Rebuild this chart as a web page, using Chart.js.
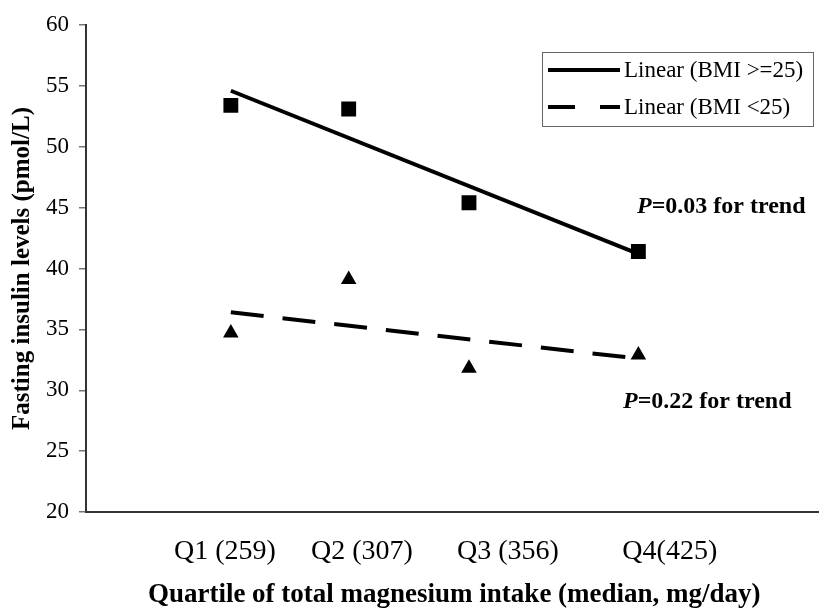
<!DOCTYPE html>
<html>
<head>
<meta charset="utf-8">
<script src="https://cdn.jsdelivr.net/npm/chart.js@4/dist/chart.umd.min.js"></script>
<style>
  html, body { margin: 0; padding: 0; background: #fff; overflow: hidden; }
</style>
</head>
<body>
<canvas id="chart" width="833" height="615"></canvas>
<script>
// Quartile medians of total magnesium intake (mg/day)
const magnesium = [259, 307, 356, 425];
const quartileLabels = ['Q1 (259)', 'Q2 (307)', 'Q3 (356)', 'Q4(425)'];

// Fasting insulin levels (pmol/L)
const insulinHighBmi = [53.4, 53.1, 45.4, 41.4];
const insulinLowBmi = [34.7, 39.1, 31.8, 32.9];

// Linear trend lines, values at Q1 and Q4
const trendHighBmi = [54.6, 41.2];
const trendLowBmi = [36.4, 32.6];

const trendPValues = ['0.03', '0.22'];

const serif = "'Liberation Serif', 'Times New Roman', serif";

function toPoints(xs, ys) {
    return ys.map((y, i) => ({ x: xs[i], y: y }));
}

// Legend box drawn inside the plot, like the original figure
const boxLegend = {
    id: 'boxLegend',
    afterDraw(chart) {
        const ctx = chart.ctx;
        ctx.save();
        ctx.strokeStyle = '#666';
        ctx.lineWidth = 1;
        ctx.strokeRect(542.5, 52.5, 271, 74);

        const rows = [chart.data.datasets[0], chart.data.datasets[1]];
        const ys = [70, 107];
        rows.forEach((ds, i) => {
            ctx.beginPath();
            ctx.strokeStyle = '#000';
            ctx.lineWidth = 4;
            ctx.setLineDash(ds.borderDash ? [27, 25] : []);
            ctx.moveTo(548, ys[i]);
            ctx.lineTo(620, ys[i]);
            ctx.stroke();
            ctx.setLineDash([]);
            ctx.fillStyle = '#000';
            ctx.font = '23px ' + serif;
            ctx.textBaseline = 'middle';
            ctx.textAlign = 'left';
            ctx.fillText(ds.label, 624, ys[i] + 1);
        });
        ctx.restore();
    }
};

// "P=... for trend" notes
const trendNotes = {
    id: 'trendNotes',
    afterDraw(chart) {
        const ctx = chart.ctx;
        const spots = [[637, 207], [623, 402]];
        ctx.save();
        ctx.fillStyle = '#000';
        ctx.textBaseline = 'middle';
        ctx.textAlign = 'left';
        trendPValues.forEach((p, i) => {
            let [x, y] = spots[i];
            ctx.font = 'italic bold 24px ' + serif;
            ctx.fillText('P', x, y);
            x += ctx.measureText('P').width;
            ctx.font = 'bold 24px ' + serif;
            ctx.fillText('=' + p + ' for trend', x, y);
        });
        ctx.restore();
    }
};

// where the quartile labels sit along the magnesium axis
const labelAt = [256.6, 312.4, 371.9, 437.8];

new Chart(document.getElementById('chart'), {
    type: 'scatter',
    data: {
        datasets: [
            {
                label: 'Linear (BMI >=25)',
                type: 'line',
                data: toPoints([magnesium[0], magnesium[3]], trendHighBmi),
                borderColor: '#000',
                borderWidth: 4,
                pointRadius: 0,
                fill: false
            },
            {
                label: 'Linear (BMI <25)',
                type: 'line',
                data: toPoints([magnesium[0], magnesium[3]], trendLowBmi),
                borderColor: '#000',
                borderWidth: 4,
                borderDash: [33, 19],
                pointRadius: 0,
                fill: false
            },
            {
                label: 'BMI >=25',
                data: toPoints(magnesium, insulinHighBmi),
                pointStyle: 'rect',
                pointRadius: 10.5,
                backgroundColor: '#000',
                borderColor: '#000',
                borderWidth: 0
            },
            {
                label: 'BMI <25',
                data: toPoints(magnesium, insulinLowBmi),
                pointStyle: 'triangle',
                pointRadius: 9,
                backgroundColor: '#000',
                borderColor: '#000',
                borderWidth: 0
            }
        ]
    },
    options: {
        responsive: false,
        animation: false,
        events: [],
        layout: { padding: { top: 25, right: 0, bottom: 0, left: 0 } },
        plugins: {
            legend: { display: false },
            tooltip: { enabled: false }
        },
        scales: {
            x: {
                type: 'linear',
                position: 'bottom',
                min: 200,
                max: 500,
                afterBuildTicks: (scale) => {
                    scale.ticks = labelAt.map(v => ({ value: v }));
                },
                afterFit: (scale) => { scale.height = 103; },
                ticks: {
                    autoSkip: false,
                    maxRotation: 0,
                    padding: 23,
                    color: '#000',
                    font: { family: serif, size: 28 },
                    callback: (v, i) => quartileLabels[i]
                },
                grid: { display: false, drawTicks: false },
                border: { display: true, color: '#333', width: 2 },
                title: {
                    display: true,
                    text: 'Quartile of total magnesium intake (median, mg/day)',
                    color: '#000',
                    font: { family: serif, size: 27, weight: 'bold' },
                    padding: 4
                }
            },
            y: {
                min: 20,
                max: 60,
                afterFit: (scale) => { scale.width = 86; },
                ticks: {
                    stepSize: 5,
                    padding: 10,
                    color: '#000',
                    font: { family: serif, size: 23 }
                },
                grid: {
                    drawOnChartArea: false,
                    drawTicks: true,
                    tickLength: 7,
                    color: '#777',
                    lineWidth: 1.5
                },
                border: { display: true, color: '#333', width: 2 },
                title: {
                    display: true,
                    text: 'Fasting insulin levels (pmol/L)',
                    color: '#000',
                    font: { family: serif, size: 25, weight: 'bold' },
                    padding: 8
                }
            }
        }
    },
    plugins: [boxLegend, trendNotes]
});
</script>
</body>
</html>
